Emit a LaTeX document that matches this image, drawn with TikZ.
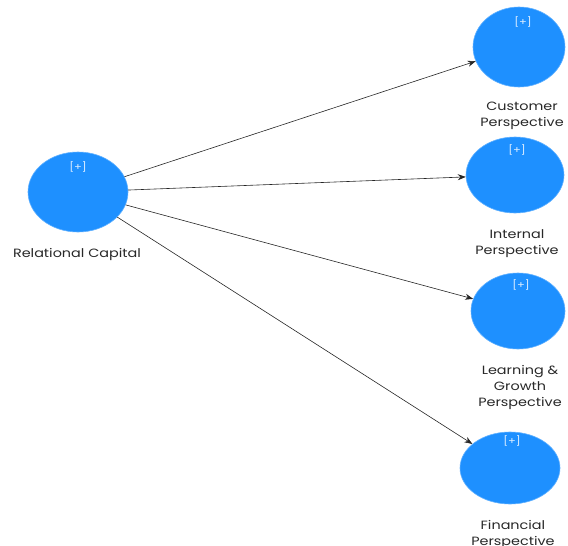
\documentclass[tikz,border=0pt]{standalone}
\usepackage{fontspec}
\setmainfont{Poppins}[FakeStretch=1.2]
\usetikzlibrary{shapes.geometric,arrows.meta}
\definecolor{lvblue}{RGB}{30,144,255}
\definecolor{lblgray}{RGB}{40,40,40}
\tikzset{
  lv/.style={ellipse, fill=lvblue, draw=lvblue!70!white, line width=0.6pt, inner sep=0pt},
  plus/.style={text=white!85!lvblue, font=\fontsize{9.5}{10}\selectfont},
  lbl/.style={align=center, text=lblgray, font=\fontsize{12}{16}\selectfont},
  path/.style={draw=black!85, line width=0.6pt, -{Stealth[length=8pt,width=6pt]}}
}
\begin{document}
\begin{tikzpicture}[x=1pt,y=-1pt]
\useasboundingbox (0,0) rectangle (568,546);
\node[lv, minimum width=100pt, minimum height=80pt] (rc) at (78,192) {};
\node[lv, minimum width=92pt, minimum height=80pt] (cp) at (519,47) {};
\node[lv, minimum width=98pt, minimum height=76pt] (ip) at (515,175) {};
\node[lv, minimum width=94pt, minimum height=76pt] (lg) at (518,311) {};
\node[lv, minimum width=100pt, minimum height=72pt] (fp) at (510,468) {};

\node[plus] (rcp) at (78,167) {[+]};
\node[plus] (cpp) at (523,22) {[+]};
\node[plus] (ipp) at (517,150) {[+]};
\node[plus] (lgp) at (521,285) {[+]};
\node[plus] (fpp) at (512,441) {[+]};

\node[lbl] (rcl) at (77,254) {Relational Capital};
\node[lbl] (cpl) at (522,116) {Customer\\Perspective};
\node[lbl] (ipl) at (517,244) {Internal\\Perspective};
\node[lbl] (lgl) at (520,387) {Learning \&\\Growth\\Perspective};
\node[lbl] (fpl) at (513,534) {Financial\\Perspective};

\draw[path] (rc) -- (cp);
\draw[path] (rc) -- (ip);
\draw[path] (rc) -- (lg);
\draw[path] (rc) -- (fp);
\end{tikzpicture}
\end{document}
